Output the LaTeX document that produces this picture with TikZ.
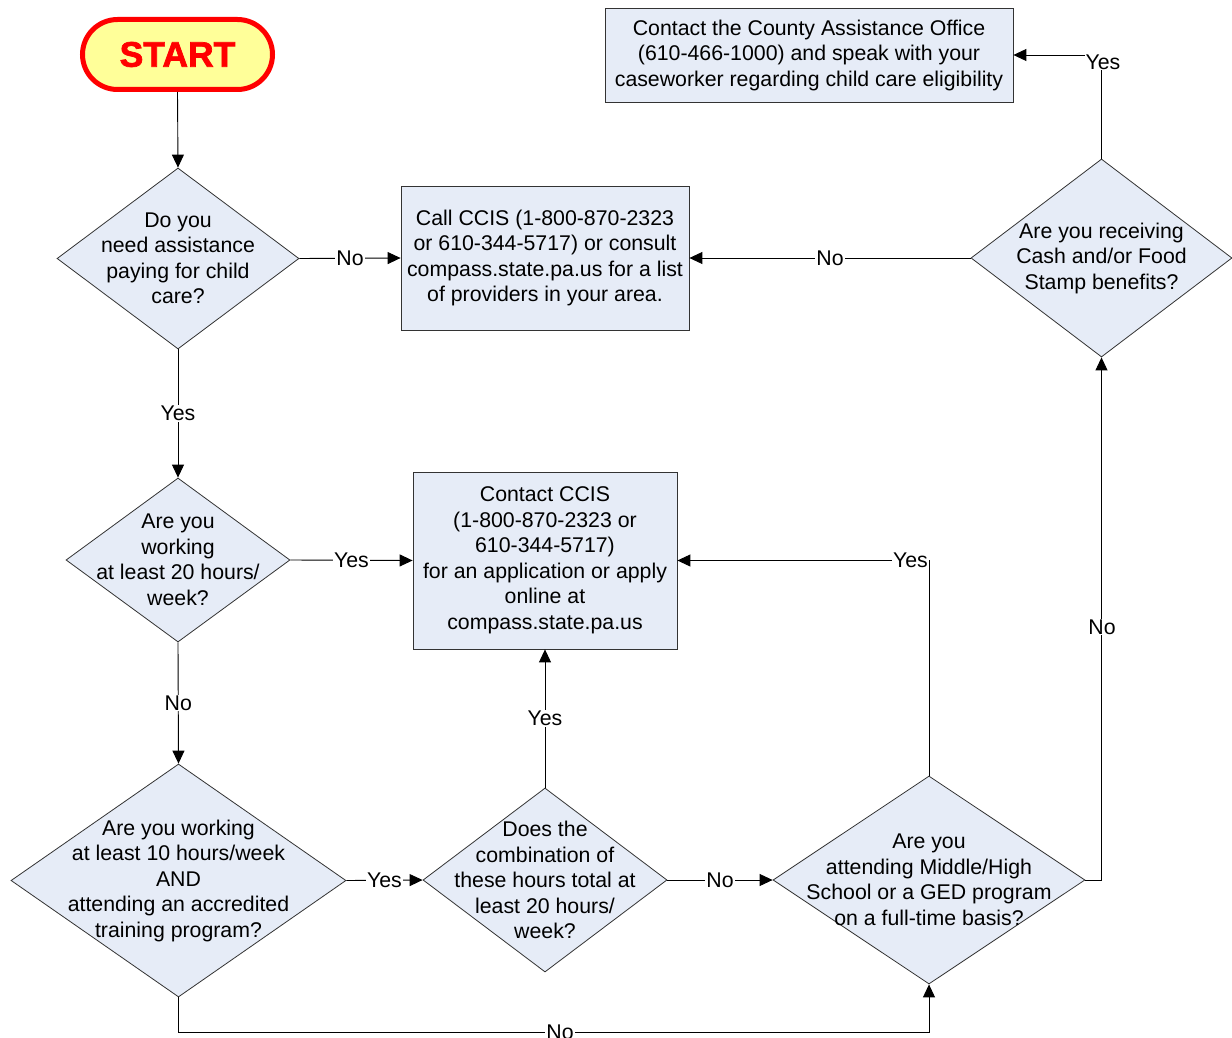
\documentclass[tikz,border=0pt]{standalone}
\usepackage{fontspec}
\setmainfont{Liberation Sans}
\newfontfamily\startfont[FakeBold=2]{Liberation Sans Bold}
\usetikzlibrary{shapes.geometric,arrows.meta}
\definecolor{shapefill}{HTML}{E6ECF7}
\definecolor{startfill}{HTML}{FFFF99}
\definecolor{startred}{HTML}{FF0000}
\definecolor{edgegray}{HTML}{333333}
\tikzset{
  txt/.style={font=\fontsize{21.3}{25.5}\selectfont, align=center, inner sep=0pt},
  dia/.style={shape=diamond, draw=edgegray, fill=shapefill, line width=0.8pt, inner sep=0pt},
  boxs/.style={rectangle, draw=edgegray, fill=shapefill, line width=0.8pt, inner sep=0pt, txt},
  arr/.style={draw=black, line width=0.9pt, -{Triangle[length=13pt,width=12pt]}},
  lbl/.style={fill=white, inner sep=1pt, font=\fontsize{21.3}{25.5}\selectfont},
}
\begin{document}
\begin{tikzpicture}[x=1pt,y=-1pt]
\useasboundingbox (0,0) rectangle (1232,1038);
% START
\node[draw=startred, line width=5pt, fill=startfill, rounded corners=35pt,
      minimum width=190pt, minimum height=70pt, inner sep=0pt,
      text=startred, font=\fontsize{35.5}{35.5}\startfont] (start) at (177.5,54.5) {START};
% diamonds
\node[dia, minimum width=242pt, minimum height=181pt] (d1) at (178,258.5) {};
\node[txt] (d1t) at (d1.center) {Do you\\need assistance\\paying for child\\care?};
\node[dia, minimum width=261pt, minimum height=198pt] (dc) at (1101.5,258) {};
\node[txt] (dct) at (dc.center) {Are you receiving\\Cash and/or Food\\Stamp benefits?};
\node[dia, minimum width=224pt, minimum height=164pt] (d2) at (178,560) {};
\node[txt] (d2t) at (d2.center) {Are you\\working\\at least 20 hours/\\week?};
\node[dia, minimum width=335pt, minimum height=233pt] (d3) at (178.5,880.5) {};
\node[txt] (d3t) at (d3.center) {Are you working\\at least 10 hours/week\\AND\\attending an accredited\\training program?};
\node[dia, minimum width=244pt, minimum height=184pt] (d4) at (545,880) {};
\node[txt] (d4t) at (d4.center) {Does the\\combination of\\these hours total at\\least 20 hours/\\week?};
\node[dia, minimum width=312pt, minimum height=208pt] (d5) at (929,880) {};
\node[txt] (d5t) at (d5.center) {Are you\\attending Middle/High\\School or a GED program\\on a full-time basis?};
% boxes
\node[boxs, minimum width=288pt, minimum height=144pt] (b1) at (545,258)
  {Call CCIS (1-800-870-2323\\or 610-344-5717) or consult\\compass.state.pa.us for a list\\of providers in your area.};
\node[boxs, minimum width=408pt, minimum height=94pt] (bt) at (809,55)
  {Contact the County Assistance Office\\(610-466-1000) and speak with your\\caseworker regarding child care eligibility};
\node[boxs, minimum width=264pt, minimum height=177pt] (b2) at (545,560.5)
  {Contact CCIS\\(1-800-870-2323 or\\610-344-5717)\\for an application or apply\\online at\\compass.state.pa.us};
% connectors
\coordinate (bot) at (0,1032);
\draw[arr] (start.south) -- (d1.north);
\draw[arr] (d1.east) -- node[lbl]{No} (b1.west);
\draw[arr] (d1.south) -- node[lbl]{Yes} (d2.north);
\draw[arr] (d2.east) -- node[lbl]{Yes} (b2.west);
\draw[arr] (d2.south) -- node[lbl]{No} (d3.north);
\draw[arr] (d3.east) -- node[lbl]{Yes} (d4.west);
\draw[arr] (d4.north) -- node[lbl]{Yes} (b2.south);
\draw[arr] (d4.east) -- node[lbl]{No} (d5.west);
\draw[arr] (d5.north) |- (b2.east);
\node[lbl] (l1) at (910.5,560) {Yes};
\draw[arr] (d5.east) -| (dc.south);
\node[lbl] (l2) at (1102,627) {No};
\draw[arr] (dc.west) -- node[lbl]{No} (b1.east);
\draw[arr] (dc.north) |- (bt.east);
\node[lbl] (l3) at (1103,62) {Yes};
\draw[arr] (d3.south) -- (d3.south |- bot) -| (d5.south);
\node[lbl] (l4) at (560,1032) {No};
\end{tikzpicture}
\end{document}
